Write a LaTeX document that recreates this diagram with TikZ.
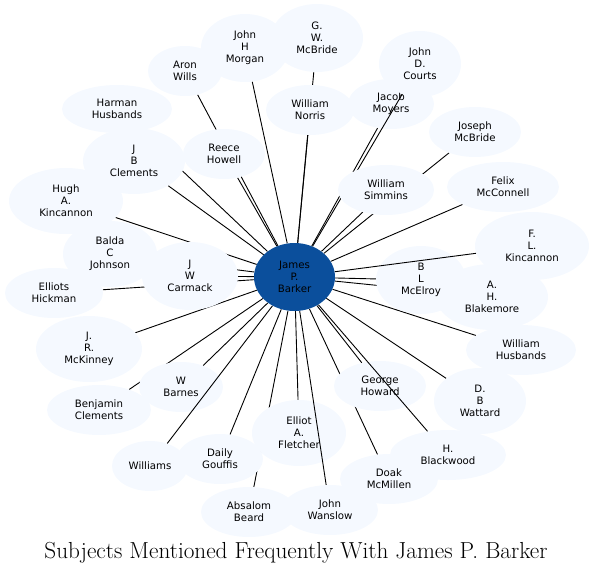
\documentclass[tikz,border=0pt]{standalone}
\usepackage{fontspec}
\newfontfamily\nodefont{DejaVu Sans}
\usetikzlibrary{shapes.geometric}
\pgfdeclarelayer{edgeunder}
\pgfdeclarelayer{nodemid}
\pgfdeclarelayer{edgeover}
\pgfsetlayers{edgeunder,nodemid,edgeover,main}
\definecolor{nodefill}{RGB}{245,249,255}
\definecolor{hubfill}{RGB}{11,79,156}
\tikzset{
  person/.style={ellipse, fill=nodefill, inner sep=0pt, align=center,
    font=\nodefont\fontsize{10.2}{12}\selectfont},
  hub/.style={ellipse, fill=hubfill, inner sep=0pt, align=center,
    font=\nodefont\fontsize{10.2}{12}\selectfont},
  link/.style={draw=black, line width=0.9pt},
}
\newcommand{\pn}[6]{\node[person, minimum width=#4*2, minimum height=#5*2] (#1) at (#2,#3) {#6};}
\begin{document}
\begin{tikzpicture}[x=1pt,y=-1pt]
\useasboundingbox (0,0) rectangle (594,574);
% top-level nodes
\node[hub, minimum width=81, minimum height=68] (c) at (294.5,277) {James\\P.\\Barker};
\pn{jhm}{245}{48}{44}{34}{John\\H\\Morgan}
\pn{gwm}{317}{38}{46}{34}{G.\\W.\\McBride}
\pn{jdc}{420}{64}{41}{33}{John\\D.\\Courts}
\pn{wn}{310}{110}{44}{25}{William\\Norris}
\pn{jmb}{475}{132}{46}{25}{Joseph\\McBride}
\pn{ws}{386}{190}{48}{25}{William\\Simmins}
\pn{fm}{503}{187}{56}{25}{Felix\\McConnell}
\pn{flk}{532}{246}{57}{34}{F.\\L.\\Kincannon}
\pn{wh}{521}{350}{55}{25}{William\\Husbands}
\pn{dbw}{480}{401}{46}{33}{D.\\B\\Wattard}
\pn{dm}{389}{479}{49}{25}{Doak\\McMillen}
\pn{hb}{448}{455}{58}{25}{H.\\Blackwood}
\pn{jw}{330}{510}{48}{25}{John\\Wanslow}
\pn{ab}{249}{512}{48}{25}{Absalom\\Beard}
\pn{dg}{220}{459}{43}{25}{Daily\\Gouffis}
\pn{wi}{150}{466}{38}{25}{Williams}
\pn{bc}{99}{410}{52}{25}{Benjamin\\Clements}
\pn{jrm}{89}{349}{53}{33}{J.\\R.\\McKinney}
\pn{eh}{54}{293}{49}{25}{Elliots\\Hickman}
\pn{jwc}{190}{276}{48}{34}{J\\W\\Carmack}
\pn{bcj}{110}{254}{47}{33}{Balda\\C\\Johnson}
\pn{hak}{66}{201}{57}{33}{Hugh\\A.\\Kincannon}
\pn{jbc}{134}{161}{51}{33}{J\\B\\Clements}
\pn{hh}{117}{109}{55}{24}{Harman\\Husbands}
\pn{rh}{224}{154}{41}{25}{Reece\\Howell}
\pn{aw}{185}{71}{37}{25}{Aron\\Wills}
% nodes that some connectors cross over
\begin{pgfonlayer}{nodemid}
\pn{jm}{391}{104}{43}{25}{Jacob\\Moyers}
\pn{ahb}{492}{297}{56}{33}{A.\\H.\\Blakemore}
\pn{blm}{421}{280}{45}{34}{B\\L\\McElroy}
\pn{gh}{380}{386}{46}{25}{George\\Howard}
\pn{eaf}{299}{433}{47}{33}{Elliot\\A.\\Fletcher}
\pn{wb}{181}{387}{42}{25}{W\\Barnes}
\end{pgfonlayer}
% connectors under the nodes
\begin{pgfonlayer}{edgeunder}
\foreach \t in {jhm,gwm,jm,wn,jmb,ws,fm,blm,ahb,wh,dbw,gh,dm,eaf,ab,dg,wb,bc,jrm,eh,jwc,bcj,hak,jbc,hh,rh,aw}
  \draw[link] (c) -- (\t);
\end{pgfonlayer}
% connectors over some nodes
\begin{pgfonlayer}{edgeover}
\foreach \t in {jdc,hb,jw,wi,flk}
  \draw[link] (c) -- (\t);
\end{pgfonlayer}
\node[anchor=base, font=\fontsize{23.2}{27}\selectfont] (title) at (296,558) {Subjects Mentioned Frequently With James P. Barker};
\end{tikzpicture}
\end{document}
